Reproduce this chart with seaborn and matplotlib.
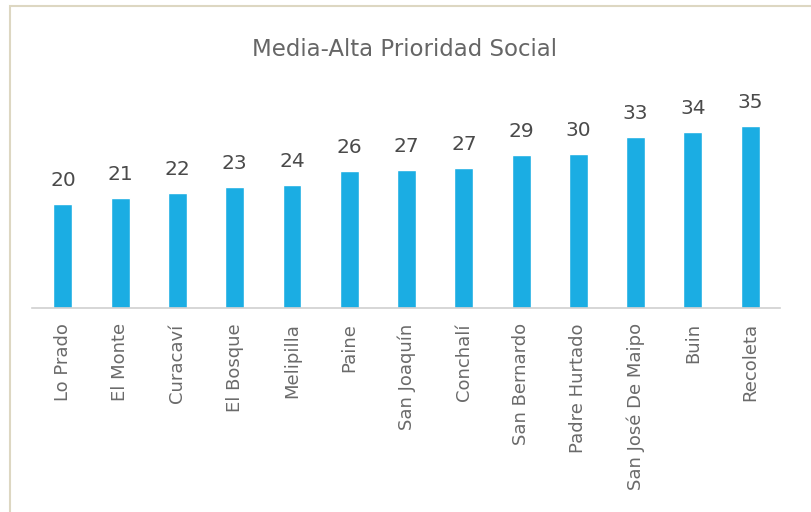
import pandas as pd
import matplotlib
matplotlib.use("Agg")
import matplotlib.pyplot as plt
import seaborn as sns
from matplotlib.patches import Rectangle

# data
comunas = ["Lo Prado", "El Monte", "Curacaví", "El Bosque", "Melipilla", "Paine",
           "San Joaquín", "Conchalí", "San Bernardo", "Padre Hurtado",
           "San José De Maipo", "Buin", "Recoleta"]
valores = [20.0, 21.1, 22.1, 23.2, 23.7, 26.4, 26.6, 26.9, 29.4, 29.6, 32.9, 33.8, 35.0]
etiquetas = [20, 21, 22, 23, 24, 26, 27, 27, 29, 30, 33, 34, 35]

df = pd.DataFrame({"Comuna": comunas, "Valor": valores})

sns.set_theme(style="white")
plt.rcParams['font.family'] = ['DejaVu Sans']

fig = plt.figure(figsize=(8.12, 5.12), dpi=100)
fig.patch.set_facecolor("white")

# outer frame (beige), cut by the right/bottom edge
fig.patches.append(Rectangle((10/812, -0.1), 1.2, (512-6)/512 + 0.1,
                             transform=fig.transFigure, fill=False,
                             edgecolor="#ddd7c2", linewidth=1.5))

ax = fig.add_axes([32/812, (512-308)/512, (780-32)/812, (308-80)/512])
sns.barplot(data=df, x="Comuna", y="Valor", color="#1badE3", width=0.33,
            saturation=1, ax=ax)

for i, lab in enumerate(etiquetas):
    ax.annotate(str(lab), (i, valores[i]), xytext=(0, 10), textcoords="offset points",
                ha="center", va="bottom", fontsize=14.5, color="#4a4a4a")

ax.set_xlim(-0.54, 12.52)
ax.set_ylim(0, 43.8)
ax.set_xlabel("")
ax.set_ylabel("")
ax.set_yticks([])
ax.tick_params(axis="x", length=0, pad=11)
plt.setp(ax.get_xticklabels(), rotation=90, fontsize=13, color="#6a6a6a")
for s in ["top", "right", "left"]:
    ax.spines[s].set_visible(False)
ax.spines["bottom"].set_color("#d0d0d0")
ax.spines["bottom"].set_linewidth(1.2)
ax.patch.set_alpha(0)

fig.text(405/812, 1 - 50/512, "Media-Alta Prioridad Social", ha="center", va="center",
         fontsize=16.5, color="#666666")

plt.savefig("out.png", dpi=100)
